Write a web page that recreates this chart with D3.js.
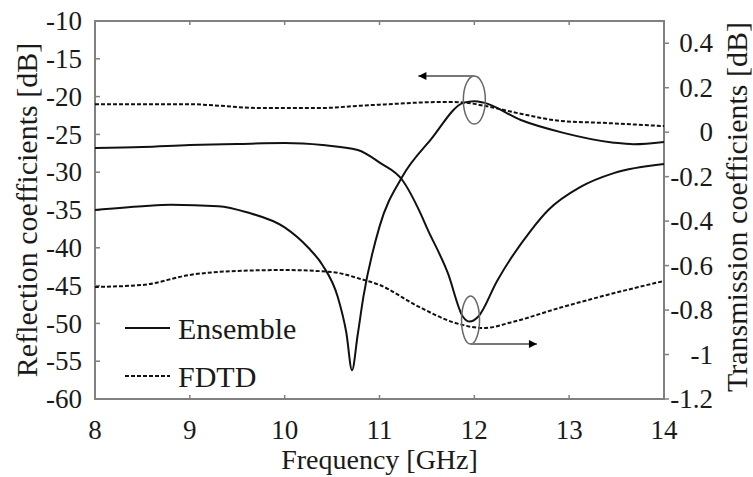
<!DOCTYPE html>
<html>
<head>
<meta charset="utf-8">
<script src="https://cdn.jsdelivr.net/npm/d3@7"></script>
</head>
<body style="margin:0;background:#fff">
<div id="chart"></div>
<script>
// Reflection (left axis, dB)
const reflEnsembleFreq = [8, 8.5, 8.8, 9.3, 9.6, 10.0, 10.25, 10.4, 10.56, 10.65, 10.71, 10.77, 10.83, 11.0, 11.24, 11.54, 11.89, 12.0, 12.1, 12.49, 12.94, 13.47, 13.68, 14];
const reflEnsemble = [-35, -34.5, -34.3, -34.5, -35.3, -37.3, -40, -42.3, -46.5, -51.2, -56.2, -51.5, -46.5, -37.2, -30.6, -25.7, -20.8, -20.6, -20.8, -23.1, -24.8, -26.1, -26.3, -26.0];

const reflFdtdFreq = [8, 8.5, 9, 9.3, 9.7, 10, 10.4, 10.8, 11.1, 11.4, 11.7, 11.9, 12.1, 12.5, 12.9, 13.4, 13.7, 14];
const reflFdtd = [-21.0, -21.0, -21.0, -21.2, -21.5, -21.5, -21.5, -21.2, -21.0, -20.8, -20.7, -20.8, -21.2, -22.3, -23.2, -23.5, -23.7, -23.9];

// Transmission (right axis, dB)
const transEnsembleFreq = [8, 8.5, 9, 9.5, 10, 10.4, 10.77, 11.01, 11.24, 11.43, 11.5, 11.72, 11.88, 11.95, 12.04, 12.24, 12.6, 12.78, 13.12, 13.47, 14];
const transEnsemble = [-0.071, -0.067, -0.058, -0.053, -0.049, -0.058, -0.08, -0.139, -0.215, -0.363, -0.43, -0.633, -0.83, -0.852, -0.83, -0.669, -0.44, -0.35, -0.246, -0.184, -0.143];

const transFdtdFreq = [8, 8.5, 9, 9.5, 10, 10.5, 10.8, 11, 11.4, 11.8, 12.1, 12.4, 12.9, 13.4, 14];
const transFdtd = [-0.696, -0.687, -0.642, -0.624, -0.620, -0.629, -0.660, -0.687, -0.782, -0.858, -0.881, -0.854, -0.790, -0.732, -0.669];

const xTicks = [8, 9, 10, 11, 12, 13, 14];
const leftTicks = [-10, -15, -20, -25, -30, -35, -40, -45, -50, -55, -60];
const rightTicks = [0.4, 0.2, 0, -0.2, -0.4, -0.6, -0.8, -1, -1.2];

const width = 753;
const height = 477;
const plot = { left: 95, right: 664, top: 21, bottom: 399 };
const fontStack = "'Liberation Serif', 'Times New Roman', Times, serif";
const textColor = "#1a1a1a";

const svg = d3.select("#chart")
    .append("svg")
    .attr("width", width)
    .attr("height", height)
    .style("font-family", fontStack);

const x = d3.scaleLinear().domain([8, 14]).range([plot.left, plot.right]);
const yLeft = d3.scaleLinear().domain([-60, -10]).range([plot.bottom, plot.top]);
const yRight = d3.scaleLinear().domain([-1.2, 0.5]).range([plot.bottom, plot.top]);

const frameColor = "#808080";

function label(sel, size) {
    return sel
        .style("font-family", fontStack)
        .style("font-size", size + "px")
        .attr("fill", textColor);
}

// ticks (inside for left/bottom/top, outside for right)
svg.append("g")
    .selectAll("line")
    .data(leftTicks)
    .enter()
    .append("line")
    .attr("x1", plot.left).attr("x2", plot.left + 5)
    .attr("y1", d => yLeft(d)).attr("y2", d => yLeft(d))
    .attr("stroke", frameColor).attr("stroke-width", 1.5);

svg.append("g")
    .selectAll("line")
    .data(rightTicks)
    .enter()
    .append("line")
    .attr("x1", plot.right).attr("x2", plot.right + 5)
    .attr("y1", d => yRight(d)).attr("y2", d => yRight(d))
    .attr("stroke", frameColor).attr("stroke-width", 1.5);

svg.append("g")
    .selectAll("line")
    .data(xTicks)
    .enter()
    .append("line")
    .attr("x1", d => x(d)).attr("x2", d => x(d))
    .attr("y1", plot.bottom).attr("y2", plot.bottom - 4)
    .attr("stroke", frameColor).attr("stroke-width", 1.5);

svg.append("g")
    .selectAll("line")
    .data(xTicks)
    .enter()
    .append("line")
    .attr("x1", d => x(d)).attr("x2", d => x(d))
    .attr("y1", plot.top).attr("y2", plot.top + 4)
    .attr("stroke", frameColor).attr("stroke-width", 1.5);

// frame
svg.append("rect")
    .attr("x", plot.left)
    .attr("y", plot.top)
    .attr("width", plot.right - plot.left)
    .attr("height", plot.bottom - plot.top)
    .attr("fill", "none")
    .attr("stroke", frameColor)
    .attr("stroke-width", 2);

// tick labels
svg.append("g")
    .selectAll("text")
    .data(leftTicks)
    .enter()
    .append("text")
    .attr("x", 82)
    .attr("y", d => yLeft(d))
    .attr("dy", "0.34em")
    .attr("text-anchor", "end")
    .call(label, 27)
    .text(d => d);

svg.append("g")
    .selectAll("text")
    .data(rightTicks)
    .enter()
    .append("text")
    .attr("x", 713)
    .attr("y", d => yRight(d))
    .attr("dy", "0.34em")
    .attr("text-anchor", "end")
    .call(label, 27)
    .text(d => d);

svg.append("g")
    .selectAll("text")
    .data(xTicks)
    .enter()
    .append("text")
    .attr("x", d => x(d))
    .attr("y", 439)
    .attr("text-anchor", "middle")
    .call(label, 27)
    .text(d => d);

// axis titles
svg.append("text")
    .attr("x", x(11))
    .attr("y", 469)
    .attr("text-anchor", "middle")
    .call(label, 28)
    .text("Frequency [GHz]");

svg.append("text")
    .attr("transform", "translate(37,210) rotate(-90)")
    .attr("text-anchor", "middle")
    .call(label, 30)
    .text("Reflection coefficients [dB]");

svg.append("text")
    .attr("transform", "translate(747,207) rotate(-90)")
    .attr("text-anchor", "middle")
    .call(label, 30)
    .text("Transmission coefficients [dB]");

// curves
const series = [
    { f: reflEnsembleFreq, v: reflEnsemble, y: yLeft, dash: null },
    { f: reflFdtdFreq, v: reflFdtd, y: yLeft, dash: "4,2" },
    { f: transEnsembleFreq, v: transEnsemble, y: yRight, dash: null },
    { f: transFdtdFreq, v: transFdtd, y: yRight, dash: "4,2" }
];

series.forEach(s => {
    const line = d3.line()
        .x((d, i) => x(s.f[i]))
        .y(d => s.y(d))
        .curve(d3.curveMonotoneX);
    svg.append("path")
        .datum(s.v)
        .attr("d", line)
        .attr("fill", "none")
        .attr("stroke", "#111")
        .attr("stroke-width", 2)
        .attr("stroke-dasharray", s.dash);
});

// annotations: ellipses with arrows
const defs = svg.append("defs");
defs.append("marker")
    .attr("id", "head")
    .attr("viewBox", "0 0 10 10")
    .attr("refX", 10).attr("refY", 5)
    .attr("markerWidth", 10).attr("markerHeight", 8)
    .attr("markerUnits", "userSpaceOnUse")
    .attr("orient", "auto")
    .append("path")
    .attr("d", "M0,0L10,5L0,10Z")
    .attr("fill", "#000");

const notes = [
    { cx: 12.0, cy: -20.45, rx: 11, ry: 24, toX: 11.41, side: -1 },
    { cx: 11.96, cy: -49.55, rx: 9, ry: 24, toX: 12.66, side: 1 }
];

notes.forEach(n => {
    const cx = x(n.cx);
    const cy = yLeft(n.cy);
    svg.append("ellipse")
        .attr("cx", cx).attr("cy", cy)
        .attr("rx", n.rx).attr("ry", n.ry)
        .attr("fill", "none")
        .attr("stroke", "#666")
        .attr("stroke-width", 1.5);
    const ay = n.side < 0 ? cy - n.ry : cy + n.ry;
    svg.append("line")
        .attr("x1", cx).attr("y1", ay)
        .attr("x2", x(n.toX)).attr("y2", ay)
        .attr("stroke", "#777")
        .attr("stroke-width", 2)
        .attr("marker-end", "url(#head)");
});

// legend
const legend = svg.append("g");
[["Ensemble", null, 328], ["FDTD", "4,2", 376]].forEach(([name, dash, ly]) => {
    legend.append("line")
        .attr("x1", 125).attr("x2", 170)
        .attr("y1", ly).attr("y2", ly)
        .attr("stroke", "#111")
        .attr("stroke-width", 2)
        .attr("stroke-dasharray", dash);
    legend.append("text")
        .attr("x", 178)
        .attr("y", ly + 11)
        .call(label, 30)
        .text(name);
});
</script>
</body>
</html>
